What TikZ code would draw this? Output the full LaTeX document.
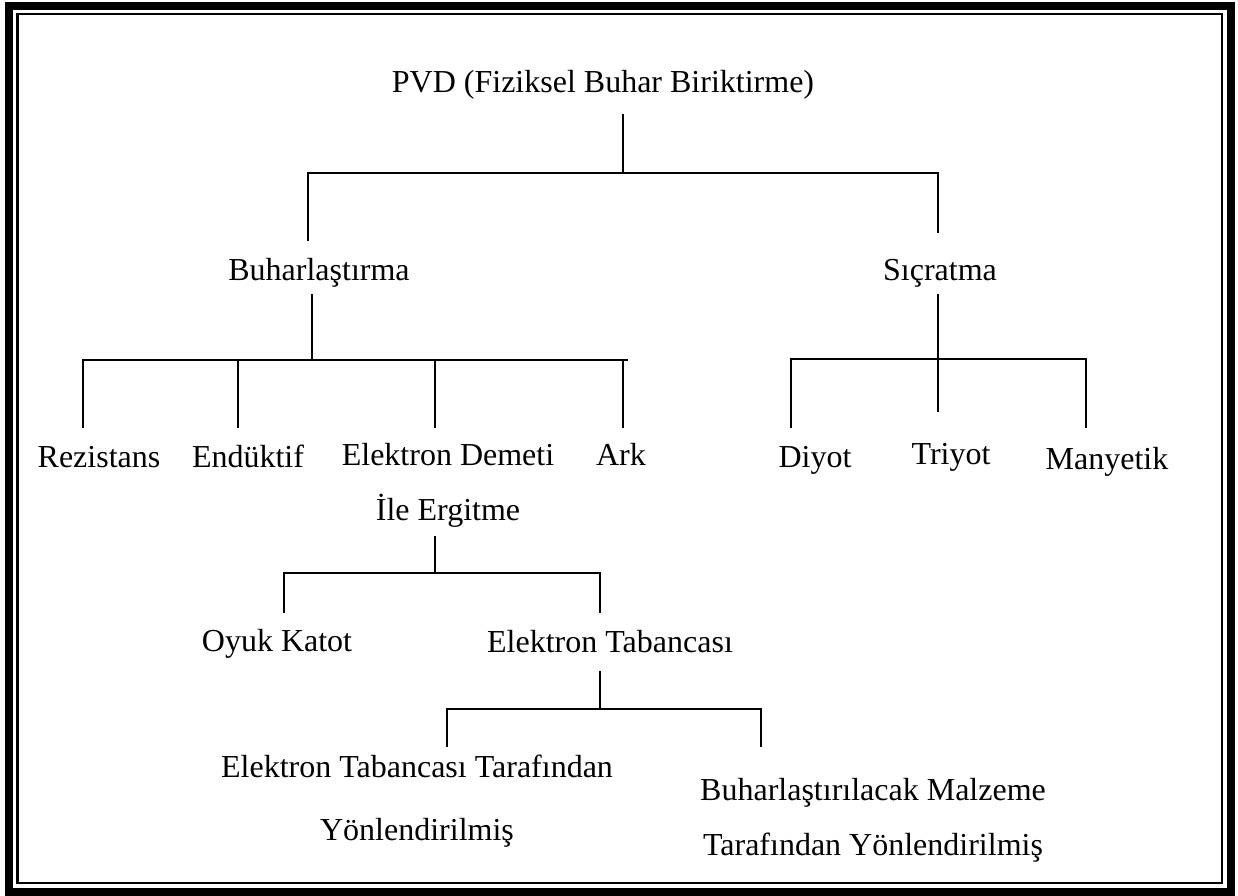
\documentclass[tikz,border=0pt]{standalone}
\usepackage{fontspec}
\setmainfont{Liberation Serif}
\begin{document}
\begin{tikzpicture}[x=1pt,y=-1pt,
  lbl/.style={inner sep=0pt,anchor=base,align=center,font=\fontsize{32}{55}\selectfont},
  lbltall/.style={lbl,font=\fontsize{32}{63}\selectfont},
  link/.style={line width=2pt,line cap=rect}]
\useasboundingbox (0,0) rectangle (1238,895);
% double frame
\draw[line width=8pt] (9,6) rectangle (1231,892);
\draw[line width=2.5pt] (17.5,14) rectangle (1222,883);

% labels (two-line labels are placed by the baseline of their last line)
\node[lbl] (pvd) at (603,92) {PVD (Fiziksel Buhar Biriktirme)};
\node[lbl] (buhar) at (319,280) {Buharlaştırma};
\node[lbl] (sicr) at (940,280) {Sıçratma};
\node[lbl] (rez) at (99,467) {Rezistans};
\node[lbl] (end) at (248,467) {Endüktif};
\node[lbl] (edem) at (448,520) {Elektron Demeti\\İle Ergitme};
\node[lbl] (ark) at (621,465) {Ark};
\node[lbl] (diy) at (815,467) {Diyot};
\node[lbl] (tri) at (951,464) {Triyot};
\node[lbl] (man) at (1107,469) {Manyetik};
\node[lbl] (oyuk) at (277,651) {Oyuk Katot};
\node[lbl] (etab) at (610,652) {Elektron Tabancası};
\node[lbltall] (etyon) at (417,840) {Elektron Tabancası Tarafından\\Yönlendirilmiş};
\node[lbl] (mzyon) at (873,855) {Buharlaştırılacak Malzeme\\Tarafından Yönlendirilmiş};

% connector end points
\coordinate (p0) at (623,115);  \coordinate (p1) at (623,173);
\coordinate (pl) at (308,173);  \coordinate (pr) at (938,173);
\coordinate (plb) at (308,240); \coordinate (prb) at (938,232);

\coordinate (b0) at (312,295);  \coordinate (b1) at (312,360);
\coordinate (bl) at (83,360);   \coordinate (br) at (627,360);
\coordinate (bx1) at (238,360); \coordinate (bx2) at (435,360); \coordinate (bx3) at (623,360);
\coordinate (rezT) at (83,427); \coordinate (endT) at (238,427);
\coordinate (edemT) at (435,427); \coordinate (arkT) at (623,427);

\coordinate (s0) at (938,295);  \coordinate (s1) at (938,411);
\coordinate (sl) at (791,359);  \coordinate (sr) at (1086,359);
\coordinate (diyT) at (791,427); \coordinate (manT) at (1086,427);

\coordinate (e0) at (435,537);  \coordinate (e1) at (435,573);
\coordinate (el) at (284,573);  \coordinate (er) at (600,573);
\coordinate (oyukT) at (284,612); \coordinate (etabT) at (600,612);

\coordinate (t0) at (600,672);  \coordinate (t1) at (600,709);
\coordinate (tl) at (447,709);  \coordinate (tr) at (761,709);
\coordinate (etyonT) at (447,746); \coordinate (mzyonT) at (761,746);

% tree connectors
\draw[link] (p0) -- (p1);
\draw[link] (plb) -- (pl) -- (pr) -- (prb);

\draw[link] (b0) -- (b1);
\draw[link] (rezT) -- (bl) -- (br);
\draw[link] (bx1) -- (endT);
\draw[link] (bx2) -- (edemT);
\draw[link] (bx3) -- (arkT);

\draw[link] (s0) -- (s1);
\draw[link] (diyT) -- (sl) -- (sr) -- (manT);

\draw[link] (e0) -- (e1);
\draw[link] (oyukT) -- (el) -- (er) -- (etabT);

\draw[link] (t0) -- (t1);
\draw[link] (etyonT) -- (tl) -- (tr) -- (mzyonT);
\end{tikzpicture}
\end{document}
